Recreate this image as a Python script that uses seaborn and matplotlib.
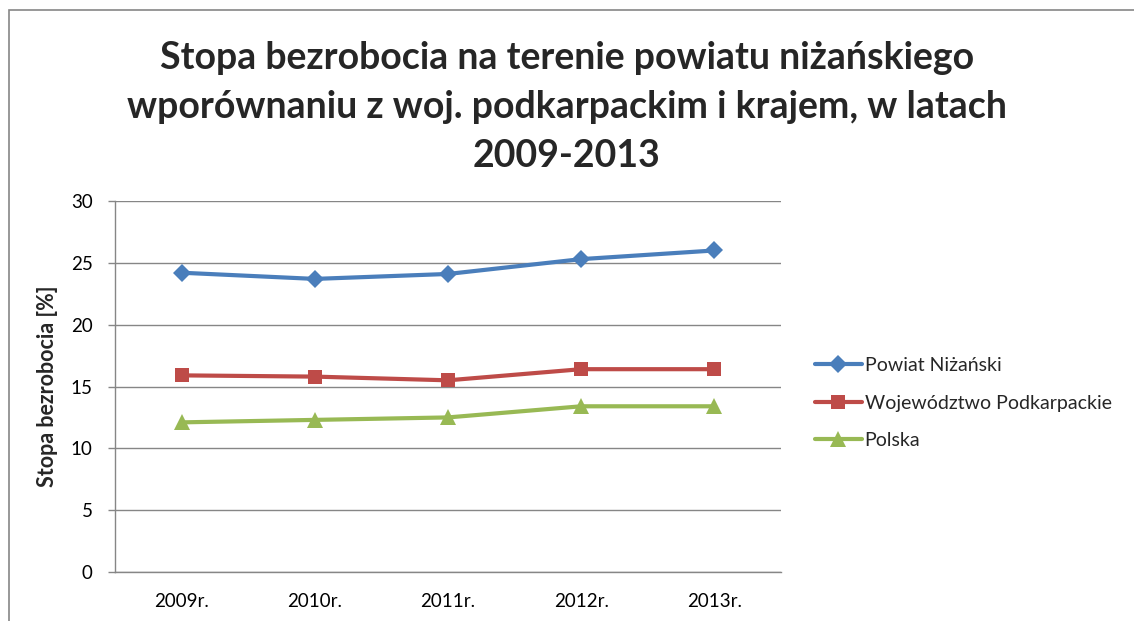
import matplotlib
matplotlib.use("Agg")
import matplotlib.pyplot as plt
import seaborn as sns
import pandas as pd
from matplotlib.patches import Rectangle

years = ["2009r.", "2010r.", "2011r.", "2012r.", "2013r."]
powiat = [24.2, 23.7, 24.1, 25.3, 26.0]
wojewodztwo = [15.9, 15.8, 15.5, 16.4, 16.4]
polska = [12.1, 12.3, 12.5, 13.4, 13.4]
series_names = ["Powiat Niżański", "Województwo Podkarpackie", "Polska"]
title = "Stopa bezrobocia na terenie powiatu niżańskiego\nwporównaniu z woj. podkarpackim i krajem, w latach\n2009-2013"
ylabel = "Stopa bezrobocia [%]"
yticks = [0, 5, 10, 15, 20, 25, 30]

sns.set_theme(style="white")
plt.rcParams["font.family"] = ["Lato", "DejaVu Sans"]

rows = []
for name, vals in zip(series_names, [powiat, wojewodztwo, polska]):
    for i, (y, v) in enumerate(zip(years, vals)):
        rows.append({"pos": i, "year": y, "value": v, "series": name})
df = pd.DataFrame(rows)

colors = {"Powiat Niżański": "#4A7EBB",
          "Województwo Podkarpackie": "#BE4B48",
          "Polska": "#98B954"}
markers = {"Powiat Niżański": "D",
           "Województwo Podkarpackie": "s",
           "Polska": "^"}
msizes = {"Powiat Niżański": 9.5, "Województwo Podkarpackie": 10, "Polska": 11}

fig = plt.figure(figsize=(11.34, 6.21), dpi=100)
ax = fig.add_axes([115 / 1134, 1 - 572 / 621, (781 - 115) / 1134, (572 - 201) / 621])

for name in series_names:
    sub = df[df["series"] == name]
    sns.lineplot(data=sub, x="pos", y="value", ax=ax, color=colors[name],
                 marker=markers[name], markersize=msizes[name], linewidth=3,
                 markeredgewidth=0, label=name, zorder=3)

ax.set_xlim(-0.5, 4.5)
ax.set_ylim(0, 30)
ax.set_xticks(range(len(years)))
ax.set_xticklabels(years)
ax.set_yticks(yticks)
ax.set_xlabel("")
ax.set_ylabel(ylabel, fontsize=15.5, fontweight="bold", labelpad=9)
ax.tick_params(axis="both", labelsize=13.5, colors="black")
ax.tick_params(axis="y", length=5, color="#868686", width=1, pad=11, direction="out", left=True)
ax.tick_params(axis="x", length=0, pad=15)
ax.grid(axis="y", color="#868686", linewidth=1)
ax.set_axisbelow(True)
for s in ["top", "right"]:
    ax.spines[s].set_visible(False)
for s in ["left", "bottom"]:
    ax.spines[s].set_color("#868686")
    ax.spines[s].set_linewidth(1)

ax.get_legend().remove()
handles, labels = ax.get_legend_handles_labels()
fig.legend(handles, labels, loc="center left", bbox_to_anchor=(815 / 1134, 1 - 403 / 621),
           frameon=False, fontsize=14, handlelength=2.4, handletextpad=0.15,
           labelspacing=1.05, borderaxespad=0, borderpad=0)

fig.text(0.5, 1 - 107 / 621, title, ha="center", va="center", fontsize=27,
         fontweight="bold", linespacing=1.52)

fig.patches.append(Rectangle((9 / 1134, -0.1), 1.2, 1 - 10 / 621 + 0.1,
                             transform=fig.transFigure, fill=False,
                             edgecolor="#868686", linewidth=1.2))

fig.savefig("out.png", dpi=100)
